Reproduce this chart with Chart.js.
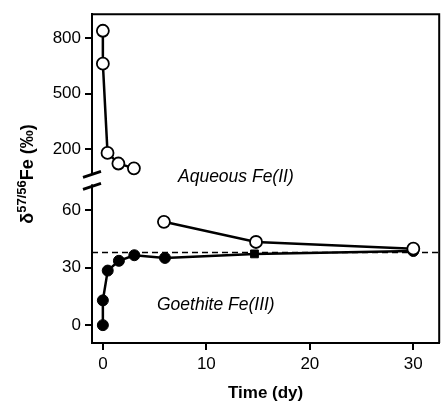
<!DOCTYPE html>
<html>
<head>
<meta charset="utf-8">
<script src="https://cdn.jsdelivr.net/npm/chart.js@4/dist/chart.umd.min.js"></script>
<style>
  html, body { margin: 0; padding: 0; background: #fff; }
</style>
</head>
<body>
<canvas id="js--chart" width="447" height="408"></canvas>
<script>
// values (day, per mil)
const aqueousEarlyDays = [0, 0, 0.45, 1.5, 3.0];
const aqueousEarlyVals = [838, 661, 180, 123, 97];
const aqueousLateDays = [5.9, 14.8, 30];
const aqueousLateVals = [53.8, 43.3, 39.8];
const goethiteDays = [0, 0, 0.47, 1.55, 3.04, 6.0, 14.65, 30];
const goethiteVals = [0, 12.9, 28.4, 33.5, 36.4, 35.0, 37.1, 38.6];
const goethiteStyles = ["circle", "circle", "circle", "circle", "circle", "circle", "rect", "circle"];
const equilibriumVal = 37.8;

const yTickValues = [0, 30, 60, 200, 500, 800];
const xTickValues = [0, 10, 20, 30];

// broken axis: lower part linear, upper part compressed
const lowerMax = 70;
const breakAt = 91.6;        // where 200 sits on the plotted scale
const upperScale = 29 / 300;

function squash(v){
    if(v <= lowerMax){
        return v;
    }
    return breakAt + (v - 200) * upperScale;
}

function toPoints(days, vals){
    return days.map(function(d, i){
        return {x: d, y: squash(vals[i])};
    });
}

const font = "'Liberation Sans', Arial, Helvetica, sans-serif";
const xMin = -1.05, xMax = 32.5;

const frame = {
    id: "frame",
    afterDraw: function(chart){
        const ctx = chart.ctx;
        const a = chart.chartArea;
        const y = chart.scales.y;
        ctx.save();
        ctx.strokeStyle = "#000";
        ctx.lineWidth = 2;
        ctx.beginPath();
        ctx.moveTo(a.left, a.top);
        ctx.lineTo(a.right, a.top);
        ctx.lineTo(a.right, a.bottom);
        ctx.stroke();

        // axis break marks
        const y1 = y.getPixelForValue(79);
        const y2 = y.getPixelForValue(72.8);
        ctx.fillStyle = "#fff";
        ctx.fillRect(a.left - 2, y1 + 1, 4, y2 - y1 - 2);
        ctx.lineWidth = 2.8;
        ctx.beginPath();
        ctx.moveTo(a.left - 9, y1 + 4);
        ctx.lineTo(a.left + 9, y1 - 2);
        ctx.moveTo(a.left - 9, y2 + 4);
        ctx.lineTo(a.left + 9, y2 - 2);
        ctx.stroke();

        // y title with superscript
        ctx.fillStyle = "#000";
        ctx.translate(33, 174);
        ctx.rotate(-Math.PI / 2);
        const big = "bold 18px " + font;
        const small = "bold 13px " + font;
        ctx.font = big;
        const w1 = ctx.measureText("\u03b4").width;
        const w3 = ctx.measureText("Fe (\u2030)").width;
        ctx.font = small;
        const w2 = ctx.measureText("57/56").width;
        let x = -(w1 + w2 + w3) / 2;
        ctx.textBaseline = "alphabetic";
        ctx.font = big;
        ctx.fillText("\u03b4", x, 0);
        x += w1;
        ctx.font = small;
        ctx.fillText("57/56", x, -7);
        x += w2;
        ctx.font = big;
        ctx.fillText("Fe (\u2030)", x, 0);
        ctx.restore();

        // labels inside the plot
        ctx.save();
        ctx.fillStyle = "#000";
        ctx.font = "italic 17.5px " + font;
        ctx.textBaseline = "middle";
        ctx.fillText("Aqueous Fe(II)", 178, 177);
        ctx.fillText("Goethite Fe(III)", 157, 305);
        ctx.restore();
    }
};

new Chart(document.getElementById("js--chart"), {
    type: "scatter",
    data: {
        datasets: [
            {
                data: toPoints(aqueousEarlyDays, aqueousEarlyVals),
                showLine: true,
                borderColor: "#000",
                borderWidth: 2.5,
                pointBackgroundColor: "#fff",
                pointBorderColor: "#000",
                pointBorderWidth: 1.8,
                pointRadius: 6
            },
            {
                data: toPoints(aqueousLateDays, aqueousLateVals),
                showLine: true,
                borderColor: "#000",
                borderWidth: 2.5,
                pointBackgroundColor: "#fff",
                pointBorderColor: "#000",
                pointBorderWidth: 1.8,
                pointRadius: 6
            },
            {
                data: toPoints(goethiteDays, goethiteVals),
                showLine: true,
                borderColor: "#000",
                borderWidth: 2.5,
                pointBackgroundColor: "#000",
                pointBorderColor: "#000",
                pointBorderWidth: 1,
                pointRadius: 5.5,
                pointStyle: goethiteStyles
            },
            {
                data: [{x: xMin, y: squash(equilibriumVal)}, {x: xMax, y: squash(equilibriumVal)}],
                showLine: true,
                borderColor: "#000",
                borderWidth: 1.5,
                borderDash: [6, 4],
                pointRadius: 0
            }
        ]
    },
    options: {
        responsive: false,
        animation: false,
        devicePixelRatio: 1,
        layout: { padding: { top: 12, right: 2, left: 0, bottom: 0 } },
        plugins: {
            legend: { display: false },
            tooltip: { enabled: false }
        },
        scales: {
            x: {
                type: "linear",
                min: xMin,
                max: xMax,
                afterBuildTicks: function(scale){
                    scale.ticks = xTickValues.map(function(v){ return {value: v}; });
                },
                afterFit: function(scale){ scale.height = 65; },
                grid: { drawOnChartArea: false, drawTicks: true, tickLength: 7, color: "#000", lineWidth: 2 },
                border: { display: true, color: "#000", width: 2 },
                ticks: { color: "#000", font: { family: font, size: 17 }, padding: 4 },
                title: {
                    display: true,
                    text: "Time (dy)",
                    color: "#000",
                    font: { family: font, size: 17, weight: "bold" },
                    padding: { top: 12 }
                }
            },
            y: {
                type: "linear",
                min: -9.3,
                max: 161.9,
                afterBuildTicks: function(scale){
                    scale.ticks = yTickValues.map(function(v){ return {value: squash(v)}; });
                },
                afterFit: function(scale){ scale.width = 92; },
                grid: { drawOnChartArea: false, drawTicks: true, tickLength: 7, color: "#000", lineWidth: 2 },
                border: { display: true, color: "#000", width: 2 },
                ticks: {
                    color: "#000",
                    font: { family: font, size: 17 },
                    padding: 4,
                    callback: function(value, index){
                        return String(yTickValues[index]);
                    }
                }
            }
        }
    },
    plugins: [frame]
});
</script>
</body>
</html>
